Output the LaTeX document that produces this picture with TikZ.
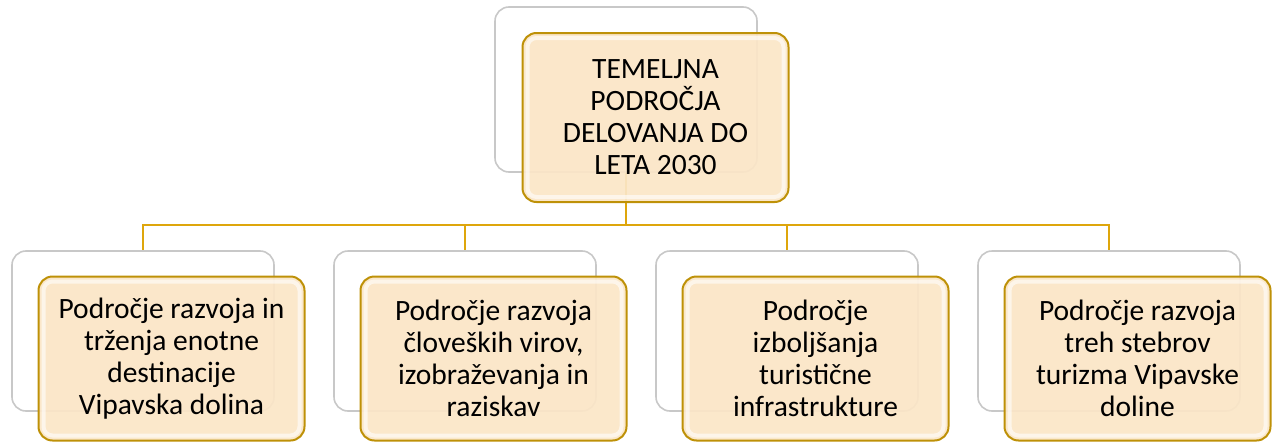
\documentclass[tikz,border=0pt]{standalone}
\usepackage{fontspec}
\setmainfont{Carlito}
\usepackage{tikz}
\usetikzlibrary{positioning}

\definecolor{linegold}{RGB}{222,166,12}
\definecolor{boxgold}{RGB}{190,145,8}
\definecolor{boxcream}{RGB}{251,230,199}
\definecolor{backgray}{RGB}{200,200,200}

\begin{document}
\begin{tikzpicture}[x=1pt, y=-1pt, every node/.style={font=\fontsize{29.5}{32}\selectfont}]
		\tikzstyle{backbox}=[rectangle, rounded corners=14pt, draw=backgray, line width=1.6pt, fill=white, minimum width=262pt, minimum height=160pt, inner sep=0pt]
		\tikzstyle{frontbox}=[rectangle, rounded corners=14pt, draw=boxgold, line width=2pt, fill=boxcream, fill opacity=0.93, text opacity=1, minimum width=266pt, minimum height=164pt, inner sep=0pt, align=center]
		\tikzstyle{link}=[draw=linegold, line width=2.4pt]
		\tikzstyle{rim}=[draw=white, line width=4pt, opacity=0.6, rounded corners=9pt]

		\useasboundingbox (0,0) rectangle (1274,447);

		% top
		\node[backbox, minimum height=165pt]  (rootback) at (626, 89.5)  {};
		\coordinate (bus) at (626, 225);
		
		\node[backbox] (areaback1) at (143, 331) {};
		\node[backbox] (areaback2) at (465, 331) {};
		\node[backbox] (areaback3) at (787, 331) {};
		\node[backbox] (areaback4) at (1109, 331) {};

		\path[link]
		(rootback.south) -- (bus)
		(bus) -| (areaback1.north)
		(bus) -| (areaback2.north)
		(bus) -| (areaback3.north)
		(bus) -| (areaback4.north)
		;

		\node[frontbox, minimum height=169pt] (root) at (655.5, 117.5) {TEMELJNA\\PODROČJA\\DELOVANJA DO\\LETA 2030};
		\node[frontbox] (area1) at (171.5, 358.5)  {Področje razvoja in\\trženja enotne\\destinacije\\Vipavska dolina};
		\node[frontbox] (area2) at (493.5, 358.5)  {Področje razvoja\\človeških virov,\\izobraževanja in\\raziskav};
		\node[frontbox] (area3) at (815.5, 358.5)  {Področje\\izboljšanja\\turistične\\infrastrukture};
		\node[frontbox] (area4) at (1137.5, 358.5) {Področje razvoja\\treh stebrov\\turizma Vipavske\\doline};

		% glossy rims
		\foreach \n in {root,area1,area2,area3,area4}
			\draw[rim] ([shift={(6,6)}]\n.north west) rectangle ([shift={(-6,-6)}]\n.south east);
\end{tikzpicture}
\end{document}
